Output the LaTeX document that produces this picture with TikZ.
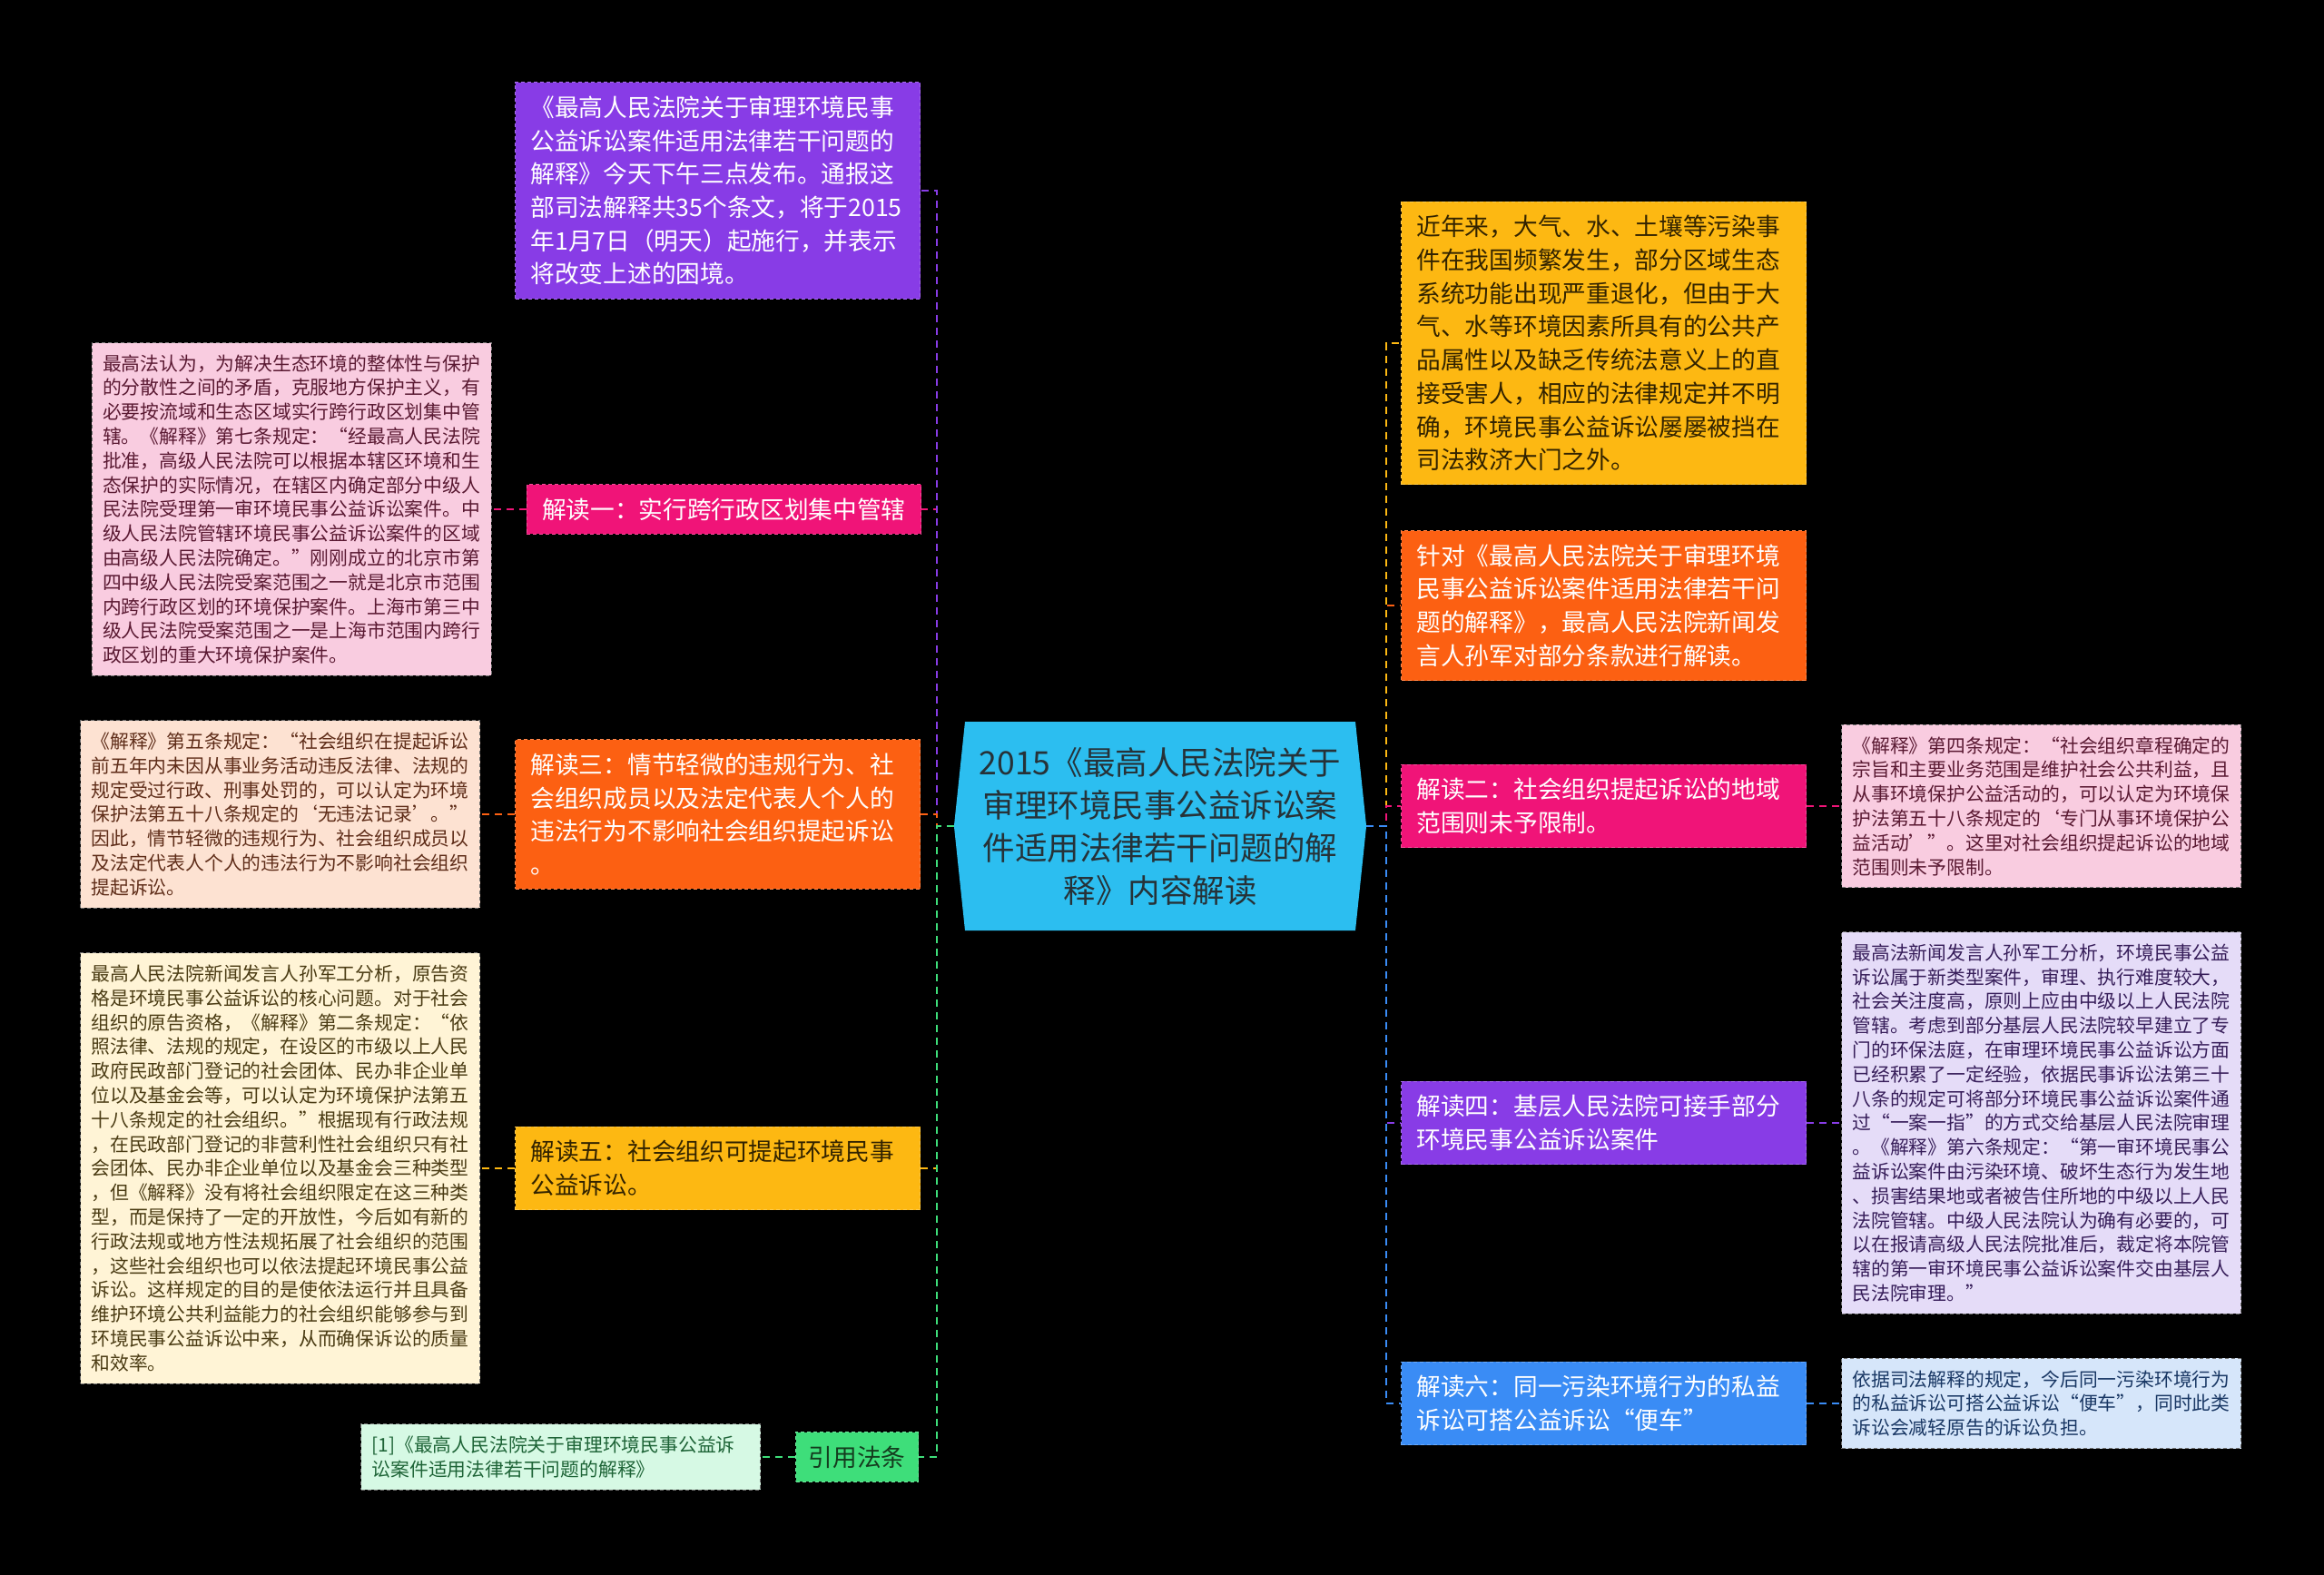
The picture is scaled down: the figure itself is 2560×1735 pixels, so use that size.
\documentclass[tikz,border=0pt]{standalone}
\usepackage{fontspec}
\setmainfont{Noto Sans CJK SC}
\usetikzlibrary{positioning,shapes.symbols}
\definecolor{mapCyan}{RGB}{44,190,240}
\definecolor{mapPurple}{RGB}{136,60,230}
\definecolor{mapPink}{RGB}{240,20,120}
\definecolor{mapOrange}{RGB}{252,96,18}
\definecolor{mapAmber}{RGB}{253,184,18}
\definecolor{mapGreen}{RGB}{62,222,122}
\definecolor{mapBlue}{RGB}{58,140,245}
\definecolor{leafPink}{RGB}{249,204,224}
\definecolor{leafPeach}{RGB}{253,226,210}
\definecolor{leafCream}{RGB}{255,244,214}
\definecolor{leafLilac}{RGB}{229,220,248}
\definecolor{leafSky}{RGB}{214,230,250}
\definecolor{leafMint}{RGB}{214,249,228}

\begin{document}
\begin{tikzpicture}[
    x=1pt, y=-1pt,
    node distance=38pt,
    rootbox/.style={
        signal, signal to=west and east, signal pointer angle=168,
        fill=mapCyan, text={rgb,255:red,38;green,50;blue,56}, align=center,
        text width=410pt, inner xsep=10pt, minimum height=230pt,
        font=\fontsize{35.5}{47}\selectfont
    },
    mainbox/.style={
        rectangle, align=left, inner xsep=17pt, inner ysep=15pt,
        line width=1pt, dash pattern=on 4pt off 3pt,
        font=\fontsize{26.7}{36.7}\selectfont
    },
    widebox/.style={mainbox, text width=412pt},
    leafbox/.style={
        rectangle, align=left, text width=416pt, inner xsep=12pt, inner ysep=13pt,
        line width=1pt, draw=black!55, dash pattern=on 4pt off 3pt,
        font=\fontsize{20.8}{26.8}\selectfont
    },
    link/.style={line width=2pt, dash pattern=on 8pt off 6pt}
]
    \fill[black] (0,0) rectangle (2560,1735);

    \node[rootbox] (root) at (1278,910) {2015《最高人民法院关于\\审理环境民事公益诉讼案\\件适用法律若干问题的解\\释》内容解读};

    \node[widebox, anchor=east, fill=mapPurple, draw=mapPurple!75!white, text=white] (l1) at (1014,210) {《最高人民法院关于审理环境民事\\公益诉讼案件适用法律若干问题的\\解释》今天下午三点发布。通报这\\部司法解释共35个条文，将于2015\\年1月7日（明天）起施行，并表示\\将改变上述的困境。};
    \node[mainbox, anchor=east, fill=mapPink, draw=mapPink!75!white, text=white] (l2) at (1015,561) {解读一：实行跨行政区划集中管辖};
    \node[widebox, anchor=east, fill=mapOrange, draw=mapOrange!75!white, text=white] (l3) at (1014,897) {解读三：情节轻微的违规行为、社\\会组织成员以及法定代表人个人的\\违法行为不影响社会组织提起诉讼\\。};
    \node[widebox, anchor=east, fill=mapAmber, draw=mapAmber!75!white, text={rgb,255:red,50;green,35;blue,0}] (l4) at (1014,1287) {解读五：社会组织可提起环境民事\\公益诉讼。};
    \node[mainbox, anchor=east, inner xsep=14pt, fill=mapGreen, draw=mapGreen!75!white, text={rgb,255:red,20;green,60;blue,30}] (l5) at (1012,1605) {引用法条};

    \node[widebox, anchor=west, fill=mapAmber, draw=mapAmber!75!white, text={rgb,255:red,50;green,35;blue,0}] (r1) at (1543,378) {近年来，大气、水、土壤等污染事\\件在我国频繁发生，部分区域生态\\系统功能出现严重退化，但由于大\\气、水等环境因素所具有的公共产\\品属性以及缺乏传统法意义上的直\\接受害人，相应的法律规定并不明\\确，环境民事公益诉讼屡屡被挡在\\司法救济大门之外。};
    \node[widebox, anchor=west, fill=mapOrange, draw=mapOrange!75!white, text=white] (r2) at (1543,667) {针对《最高人民法院关于审理环境\\民事公益诉讼案件适用法律若干问\\题的解释》，最高人民法院新闻发\\言人孙军对部分条款进行解读。};
    \node[widebox, anchor=west, fill=mapPink, draw=mapPink!75!white, text=white] (r3) at (1543,888) {解读二：社会组织提起诉讼的地域\\范围则未予限制。};
    \node[widebox, anchor=west, fill=mapPurple, draw=mapPurple!75!white, text=white] (r4) at (1543,1237) {解读四：基层人民法院可接手部分\\环境民事公益诉讼案件};
    \node[widebox, anchor=west, fill=mapBlue, draw=mapBlue!75!white, text=white] (r5) at (1543,1546) {解读六：同一污染环境行为的私益\\诉讼可搭公益诉讼“便车”};

    \node[leafbox, fill=leafPink, text={rgb,255:red,90;green,25;blue,50}, left=of l2] (lpink) {最高法认为，为解决生态环境的整体性与保护\\的分散性之间的矛盾，克服地方保护主义，有\\必要按流域和生态区域实行跨行政区划集中管\\辖。《解释》第七条规定：“经最高人民法院\\批准，高级人民法院可以根据本辖区环境和生\\态保护的实际情况，在辖区内确定部分中级人\\民法院受理第一审环境民事公益诉讼案件。中\\级人民法院管辖环境民事公益诉讼案件的区域\\由高级人民法院确定。”刚刚成立的北京市第\\四中级人民法院受案范围之一就是北京市范围\\内跨行政区划的环境保护案件。上海市第三中\\级人民法院受案范围之一是上海市范围内跨行\\政区划的重大环境保护案件。};
    \node[leafbox, fill=leafPeach, text={rgb,255:red,95;green,45;blue,25}, left=of l3] (lpeach) {《解释》第五条规定：“社会组织在提起诉讼\\前五年内未因从事业务活动违反法律、法规的\\规定受过行政、刑事处罚的，可以认定为环境\\保护法第五十八条规定的‘无违法记录’。”\\因此，情节轻微的违规行为、社会组织成员以\\及法定代表人个人的违法行为不影响社会组织\\提起诉讼。};
    \node[leafbox, fill=leafCream, text={rgb,255:red,75;green,60;blue,20}, left=of l4] (lcream) {最高人民法院新闻发言人孙军工分析，原告资\\格是环境民事公益诉讼的核心问题。对于社会\\组织的原告资格，《解释》第二条规定：“依\\照法律、法规的规定，在设区的市级以上人民\\政府民政部门登记的社会团体、民办非企业单\\位以及基金会等，可以认定为环境保护法第五\\十八条规定的社会组织。”根据现有行政法规\\，在民政部门登记的非营利性社会组织只有社\\会团体、民办非企业单位以及基金会三种类型\\，但《解释》没有将社会组织限定在这三种类\\型，而是保持了一定的开放性，今后如有新的\\行政法规或地方性法规拓展了社会组织的范围\\，这些社会组织也可以依法提起环境民事公益\\诉讼。这样规定的目的是使依法运行并且具备\\维护环境公共利益能力的社会组织能够参与到\\环境民事公益诉讼中来，从而确保诉讼的质量\\和效率。};
    \node[leafbox, fill=leafMint, text={rgb,255:red,30;green,100;blue,55}, left=of l5] (lmint) {[1]《最高人民法院关于审理环境民事公益诉\\讼案件适用法律若干问题的解释》};

    \node[leafbox, fill=leafPink, text={rgb,255:red,90;green,25;blue,50}, right=of r3] (rpink) {《解释》第四条规定：“社会组织章程确定的\\宗旨和主要业务范围是维护社会公共利益，且\\从事环境保护公益活动的，可以认定为环境保\\护法第五十八条规定的‘专门从事环境保护公\\益活动’”。这里对社会组织提起诉讼的地域\\范围则未予限制。};
    \node[leafbox, fill=leafLilac, text={rgb,255:red,55;green,30;blue,90}, right=of r4] (rlilac) {最高法新闻发言人孙军工分析，环境民事公益\\诉讼属于新类型案件，审理、执行难度较大，\\社会关注度高，原则上应由中级以上人民法院\\管辖。考虑到部分基层人民法院较早建立了专\\门的环保法庭，在审理环境民事公益诉讼方面\\已经积累了一定经验，依据民事诉讼法第三十\\八条的规定可将部分环境民事公益诉讼案件通\\过“一案一指”的方式交给基层人民法院审理\\。《解释》第六条规定：“第一审环境民事公\\益诉讼案件由污染环境、破坏生态行为发生地\\、损害结果地或者被告住所地的中级以上人民\\法院管辖。中级人民法院认为确有必要的，可\\以在报请高级人民法院批准后，裁定将本院管\\辖的第一审环境民事公益诉讼案件交由基层人\\民法院审理。”};
    \node[leafbox, fill=leafSky, text={rgb,255:red,25;green,55;blue,100}, right=of r5] (rsky) {依据司法解释的规定，今后同一污染环境行为\\的私益诉讼可搭公益诉讼“便车”，同时此类\\诉讼会减轻原告的诉讼负担。};

    \coordinate (lhub) at (1032,910);
    \coordinate (rhub) at (1527,910);

    \draw[link, mapPink] (root.west) -- (lhub) |- (l2.east);
    \draw[link, mapPurple] (root.west) -- (lhub) |- (l1.east);
    \draw[link, mapOrange] (root.west) -- (lhub) |- (l3.east);
    \draw[link, mapAmber] (root.west) -- (lhub) |- (l4.east);
    \draw[link, mapGreen] (root.west) -- (lhub) |- (l5.east);

    \draw[link, mapOrange] (root.east) -- (rhub) |- (r2.west);
    \draw[link, mapAmber] (root.east) -- (rhub) |- (r1.west);
    \draw[link, mapPink] (root.east) -- (rhub) |- (r3.west);
    \draw[link, mapPurple] (root.east) -- (rhub) |- (r4.west);
    \draw[link, mapBlue] (root.east) -- (rhub) |- (r5.west);

    \draw[link, mapPink] (l2.west) -- (lpink.east);
    \draw[link, mapOrange] (l3.west) -- (lpeach.east);
    \draw[link, mapAmber] (l4.west) -- (lcream.east);
    \draw[link, mapGreen] (l5.west) -- (lmint.east);
    \draw[link, mapPink] (r3.east) -- (rpink.west);
    \draw[link, mapPurple] (r4.east) -- (rlilac.west);
    \draw[link, mapBlue] (r5.east) -- (rsky.west);
\end{tikzpicture}
\end{document}
